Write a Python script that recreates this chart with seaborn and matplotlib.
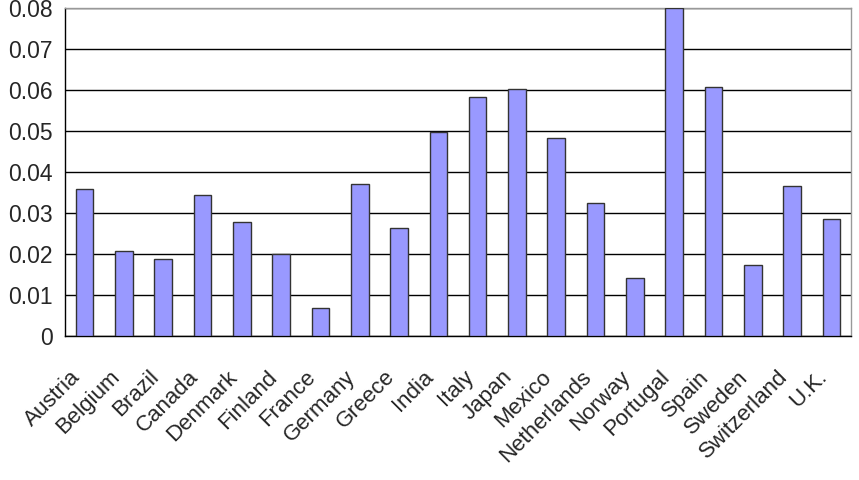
import matplotlib
matplotlib.use("Agg")
import matplotlib.pyplot as plt
import matplotlib.transforms as mtransforms
import seaborn as sns
import pandas as pd
import numpy as np

countries = ["Austria", "Belgium", "Brazil", "Canada", "Denmark", "Finland", "France",
             "Germany", "Greece", "India", "Italy", "Japan", "Mexico", "Netherlands",
             "Norway", "Portugal", "Spain", "Sweden", "Switzerland", "U.K."]
values = [0.0359, 0.0207, 0.0189, 0.0343, 0.0277, 0.0199, 0.0069,
          0.0371, 0.0263, 0.0498, 0.0583, 0.0602, 0.0482, 0.0324,
          0.0141, 0.0800, 0.0608, 0.0174, 0.0365, 0.0285]
yticks = [0, 0.01, 0.02, 0.03, 0.04, 0.05, 0.06, 0.07, 0.08]
ytick_labels = ["0", "0.01", "0.02", "0.03", "0.04", "0.05", "0.06", "0.07", "0.08"]

sns.set_style("white")
plt.rcParams['font.family'] = ['Liberation Sans', 'DejaVu Sans']

df = pd.DataFrame({"country": countries, "value": values})

fig = plt.figure(figsize=(8.59, 4.8), dpi=100)
ax = fig.add_axes([65/859, 1-336/480, (851-65)/859, (336-8)/480])

sns.barplot(data=df, x="country", y="value", ax=ax, color="#9999FF",
            saturation=1, width=0.45, edgecolor="#333333", linewidth=1.0, zorder=3)

ax.set_ylim(0, 0.08)
ax.set_xlim(-0.5, len(countries) - 0.5)
ax.set_yticks(yticks)
ax.set_yticklabels(ytick_labels, fontsize=16.5)
ax.yaxis.grid(True, color="black", linewidth=1.0, zorder=0)
ax.set_axisbelow(True)
ax.set_xlabel("")
ax.set_ylabel("")

# x ticks: labels at centers, tick marks at boundaries
ax.set_xticks(range(len(countries)))
ax.set_xticklabels(countries, rotation=45, ha="right", rotation_mode="anchor", fontsize=16)
ax.set_xticks(np.arange(-0.5, len(countries)), minor=True)
ax.tick_params(axis="x", which="major", length=0, pad=22)
ax.tick_params(axis="x", which="minor", length=5, width=1, color="black", direction="out")
ax.tick_params(axis="y", which="major", length=5, width=1, color="black", direction="out", pad=4)
offset = mtransforms.ScaledTranslation(-15/100, 0, fig.dpi_scale_trans)
for lbl in ax.get_xticklabels():
    lbl.set_transform(lbl.get_transform() + offset)

for side in ["left", "bottom"]:
    ax.spines[side].set_color("black")
    ax.spines[side].set_linewidth(1.0)
for side in ["top", "right"]:
    ax.spines[side].set_color("#999999")
    ax.spines[side].set_linewidth(1.0)

fig.savefig("out.png", dpi=100)
